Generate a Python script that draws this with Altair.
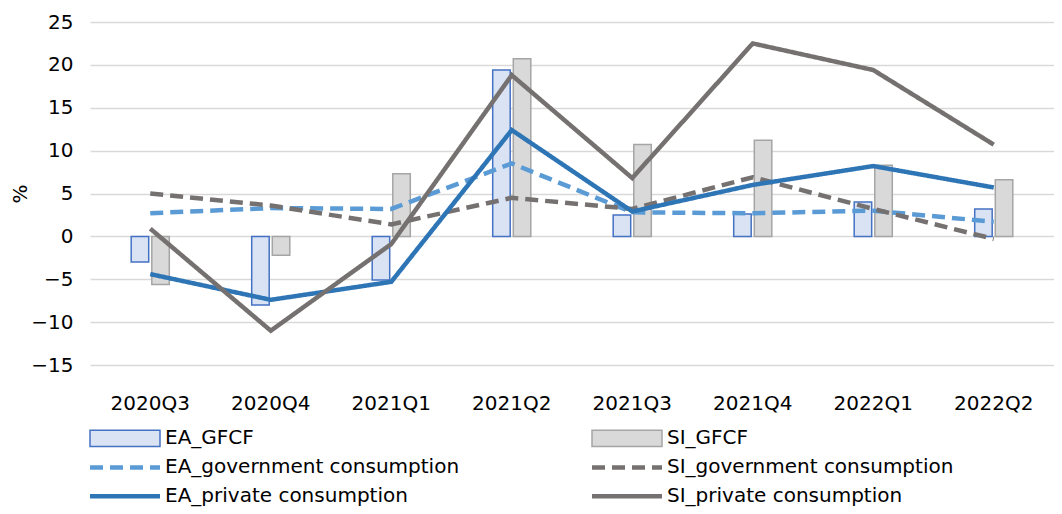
import altair as alt
import pandas as pd

quarters = ["2020Q3", "2020Q4", "2021Q1", "2021Q2", "2021Q3", "2021Q4", "2022Q1", "2022Q2"]
ea_gfcf = [-3.0, -8.0, -5.1, 19.4, 2.5, 2.6, 4.0, 3.2]
si_gfcf = [-5.6, -2.2, 7.3, 20.7, 10.7, 11.2, 8.3, 6.6]
ea_gov = [2.7, 3.3, 3.2, 8.5, 2.8, 2.7, 3.0, 1.7]
si_gov = [5.0, 3.6, 1.4, 4.5, 3.2, 6.9, 3.2, -0.3]
ea_priv = [-4.4, -7.4, -5.3, 12.4, 2.9, 6.0, 8.2, 5.7]
si_priv = [0.9, -11.0, -0.9, 18.8, 6.8, 22.5, 19.4, 10.7]

bar_series = ["EA_GFCF", "SI_GFCF"]
bar_fills = ["#DAE3F3", "#D9D9D9"]
bar_strokes = ["#4472C4", "#A5A5A5"]
line_series = ["EA_government consumption", "SI_government consumption",
               "EA_private consumption", "SI_private consumption"]
line_colors = ["#5B9BD5", "#767171", "#2E75B6", "#767171"]
line_dashes = [[13, 7], [13, 7], [1, 0], [1, 0]]

FONT = "DejaVu Sans"
FS = 20

bar_df = pd.DataFrame({
    "quarter": quarters * 2,
    "series": [bar_series[0]] * len(quarters) + [bar_series[1]] * len(quarters),
    "value": ea_gfcf + si_gfcf,
})
line_vals = [ea_gov, si_gov, ea_priv, si_priv]
line_df = pd.DataFrame({
    "quarter": quarters * 4,
    "series": [s for s in line_series for _ in quarters],
    "value": [v for vals in line_vals for v in vals],
})

fill_scale = alt.Scale(domain=bar_series, range=bar_fills)
stroke_scale = alt.Scale(domain=bar_series, range=bar_strokes)
color_scale = alt.Scale(domain=line_series, range=line_colors)
dash_scale = alt.Scale(domain=line_series, range=line_dashes)

# offset slots: two empty slots on each side keep the pair narrow and centred
offset_domain = ["_l1", "_l2"] + bar_series + ["_r1", "_r2"]

PW = 964

x_enc = alt.X("quarter:N", sort=quarters,
              scale=alt.Scale(paddingInner=0, paddingOuter=0),
              axis=alt.Axis(title=None, labelAngle=0, labelPadding=28, domain=False,
                            ticks=False, grid=False, labelFont=FONT, labelFontSize=FS,
                            labelColor="#000000"))
y_enc = alt.Y("value:Q", scale=alt.Scale(domain=[-15, 25], nice=False),
              axis=alt.Axis(values=list(range(-15, 30, 5)), title="%", titlePadding=0,
                            labelPadding=17, domain=False, ticks=False, grid=True,
                            gridColor="#D9D9D9", gridWidth=1.3,
                            labelFont=FONT, labelFontSize=FS, labelColor="#000000",
                            titleFont=FONT, titleFontSize=FS, titleFontWeight="normal",
                            titleColor="#000000"))

bars = alt.Chart(bar_df).mark_bar(strokeWidth=1.5).encode(
    x=x_enc,
    xOffset=alt.XOffset("series:N",
                        scale=alt.Scale(domain=offset_domain, paddingInner=0.15,
                                        paddingOuter=0)),
    y=y_enc,
    fill=alt.Fill("series:N", scale=fill_scale, legend=None),
    stroke=alt.Stroke("series:N", scale=stroke_scale, legend=None),
)

lines = alt.Chart(line_df).mark_line(strokeWidth=4.5).encode(
    x=alt.X("quarter:N", sort=quarters),
    y=alt.Y("value:Q"),
    color=alt.Color("series:N", scale=color_scale, legend=None),
    strokeDash=alt.StrokeDash("series:N", scale=dash_scale, legend=None),
)

main = alt.layer(bars, lines).properties(width=PW, height=343)

# legend (two columns, three rows), its view is aligned with the plot area
leg_df = pd.DataFrame({
    "name": bar_series + line_series,
    "col": [0, 1, 0, 1, 0, 1],
    "row": [0, 0, 1, 1, 2, 2],
    "kind": ["bar", "bar", "line", "line", "line", "line"],
})
col_px = 502.0
lx = alt.Scale(domain=[0, PW / col_px], nice=False, zero=False)
ly = alt.Scale(domain=[-0.5, 2.3], reverse=True, nice=False, zero=False)
base = alt.Chart(leg_df).transform_calculate(
    xe="datum.col + 70/502", xt="datum.col + 75/502",
    y0="datum.row - 0.28", y1="datum.row + 0.28")

leg_rect = base.transform_filter("datum.kind == 'bar'").mark_rect(strokeWidth=1.5).encode(
    x=alt.X("col:Q", scale=lx, axis=None), x2="xe:Q",
    y=alt.Y("y0:Q", scale=ly, axis=None), y2="y1:Q",
    fill=alt.Fill("name:N", scale=fill_scale, legend=None),
    stroke=alt.Stroke("name:N", scale=stroke_scale, legend=None),
)
leg_rule = base.transform_filter("datum.kind == 'line'").mark_rule(strokeWidth=4.5).encode(
    x=alt.X("col:Q", scale=lx, axis=None), x2="xe:Q",
    y=alt.Y("row:Q", scale=ly, axis=None),
    color=alt.Color("name:N", scale=color_scale, legend=None),
    strokeDash=alt.StrokeDash("name:N", scale=dash_scale, legend=None),
)
leg_text = base.mark_text(align="left", baseline="middle", font=FONT, fontSize=FS,
                          color="#000000").encode(
    x=alt.X("xt:Q", scale=lx, axis=None),
    y=alt.Y("row:Q", scale=ly, axis=None),
    text="name:N",
)
legend = alt.layer(leg_rect, leg_rule, leg_text).properties(width=PW, height=81)

chart = alt.vconcat(main, legend, spacing=11).resolve_scale(
    x="independent", y="independent"
).properties(
    padding={"left": 2, "top": 4, "right": 0, "bottom": 0}
).configure_view(stroke=None)

chart.save("out.html", embed_options={"renderer": "svg", "actions": False})
